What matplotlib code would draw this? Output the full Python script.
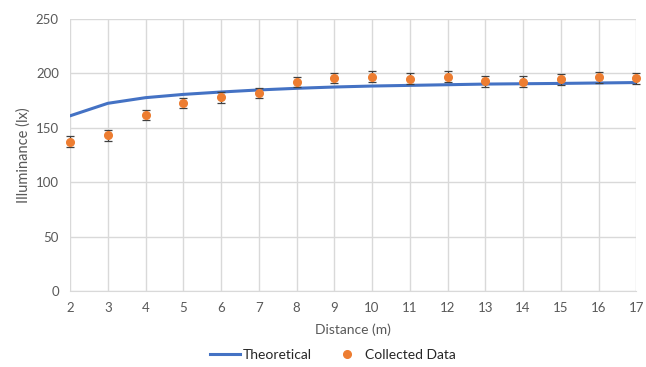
import matplotlib
matplotlib.use('Agg')
import matplotlib.pyplot as plt
from matplotlib.lines import Line2D

# distance in metres
distance = [2, 3, 4, 5, 6, 7, 8, 9, 10, 11, 12, 13, 14, 15, 16, 17]
theoretical = [161, 172.5, 177.7, 180.7, 182.9, 184.8, 186.3, 187.5, 188.4, 189.0,
               189.6, 190.2, 190.5, 190.8, 191.2, 191.6]
collected = [137.2, 143.1, 161.8, 172.8, 178.0, 182.0, 192.1, 195.8, 197.0, 195.2,
             197.0, 192.7, 192.4, 194.6, 196.4, 195.5]
err = [5, 5, 5, 5, 5, 5, 5, 5, 5, 5, 5, 5, 5, 5, 5, 5]

plt.rcParams['font.family'] = ['Lato', 'DejaVu Sans']
txt = '#595959'

fig = plt.figure(figsize=(6.46, 3.67), dpi=100)
ax = fig.add_axes([0.1084, 0.2071, 0.8766, 0.7411])

ax.plot(distance, theoretical, color='#4472C4', lw=2.2, label='Theoretical', zorder=3)
ax.errorbar(distance, collected, yerr=err, fmt='o', color='#ED7D31', ms=5.5,
            ecolor='#404040', elinewidth=0.9, capsize=3, capthick=0.9,
            label='Collected Data', zorder=4, clip_on=False)

ax.set_xlim(2, 17)
ax.set_ylim(0, 250)
ax.set_xticks(distance)
ax.set_yticks(range(0, 251, 50))
ax.grid(True, color='#D9D9D9', lw=1)
ax.set_axisbelow(True)
for s in ['top', 'right', 'left']:
    ax.spines[s].set_visible(False)
ax.spines['bottom'].set_color('#D9D9D9')
ax.tick_params(length=0, colors=txt, labelsize=9.5, pad=8)

ax.set_xlabel('Distance (m)', color=txt, fontsize=10, labelpad=7)
ax.set_ylabel('Illuminance (lx)', color=txt, fontsize=10.5, labelpad=4)

handles = [Line2D([], [], color='#4472C4', lw=2.2),
           Line2D([], [], color='#ED7D31', marker='o', ls='none', ms=5.5)]
leg = fig.legend(handles, ['Theoretical', 'Collected Data'], loc='center',
                 bbox_to_anchor=(0.515, 0.033), ncol=2, frameon=False,
                 fontsize=10, handlelength=2.2, handletextpad=0.2,
                 columnspacing=1.4)
for t in leg.get_texts():
    t.set_color('#262626')

fig.savefig('out.png', dpi=100)
